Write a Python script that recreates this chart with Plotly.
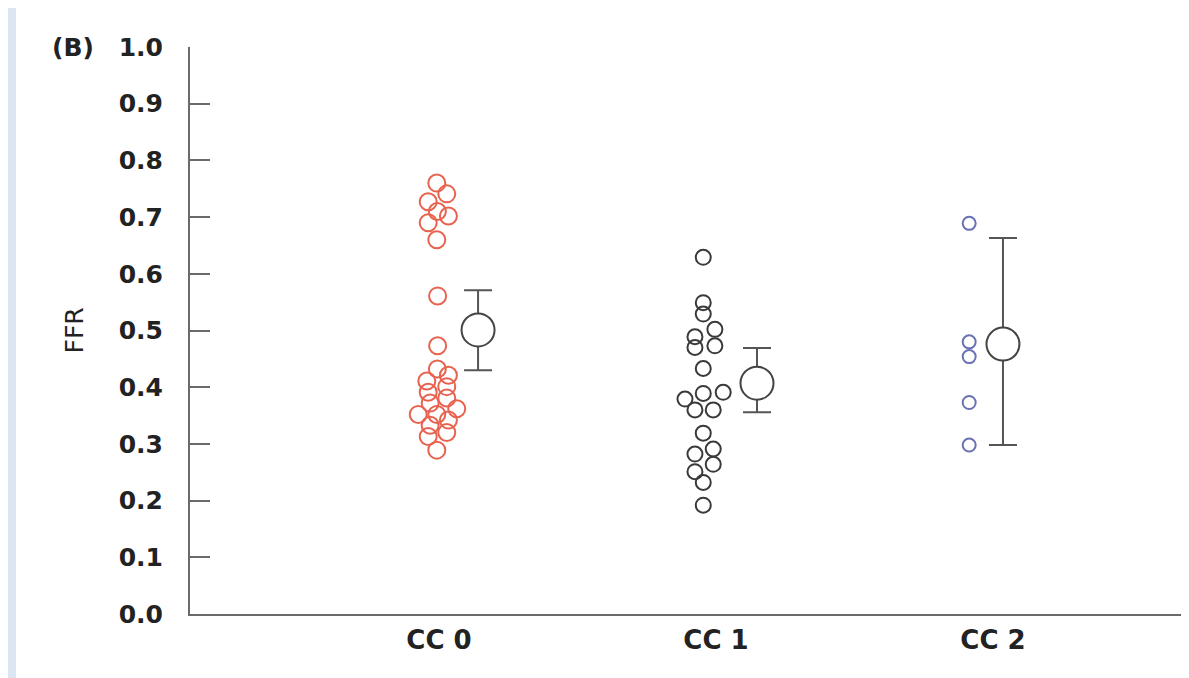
import plotly.graph_objects as go

# ---- data ----
categories = ["CC 0", "CC 1", "CC 2"]
cat_pos = [1, 2, 3]

cc0_ffr = [0.760, 0.741, 0.727, 0.710, 0.702, 0.690, 0.660, 0.561, 0.473,
           0.432, 0.421, 0.411, 0.401, 0.391, 0.381, 0.372, 0.352, 0.352,
           0.362, 0.342, 0.333, 0.320, 0.313, 0.289]
cc0_jitter = [-0.008, 0.028, -0.039, -0.006, 0.034, -0.039, -0.008, -0.005, -0.005,
              -0.006, 0.034, -0.044, 0.028, -0.039, 0.028, -0.032, -0.075, -0.008,
              0.064, 0.034, -0.032, 0.028, -0.039, -0.008]

cc1_ffr = [0.629, 0.549, 0.529, 0.502, 0.489, 0.473, 0.470, 0.433, 0.379, 0.389,
           0.391, 0.360, 0.360, 0.319, 0.291, 0.282, 0.264, 0.251, 0.232, 0.192]
cc1_jitter = [-0.046, -0.046, -0.046, -0.004, -0.076, -0.004, -0.076, -0.046, -0.112, -0.046,
              0.026, -0.076, -0.010, -0.046, -0.010, -0.076, -0.010, -0.076, -0.046, -0.046]

cc2_ffr = [0.689, 0.480, 0.454, 0.373, 0.298]
cc2_jitter = [-0.086, -0.086, -0.086, -0.086, -0.086]

mean_ffr = [0.501, 0.407, 0.476]
ci_upper = [0.571, 0.469, 0.663]
ci_lower = [0.430, 0.356, 0.298]
mean_offset = [0.141, 0.148, 0.036]

dot_colors = ["#e8634f", "#3a3a3a", "#6a72b4"]
dot_sizes = [17, 15, 13]

# figure geometry (page has an 8px body margin)
W, H = 1181, 670
L, T, B = 182, 39, 64
PW, PH = W - L, H - T - B

FONT = "DejaVu Sans, Verdana, sans-serif"
TXT = "#222222"

fig = go.Figure()

groups = [(cc0_ffr, cc0_jitter), (cc1_ffr, cc1_jitter), (cc2_ffr, cc2_jitter)]
for i, (vals, jit) in enumerate(groups):
    fig.add_trace(go.Scatter(
        x=[cat_pos[i] + j for j in jit], y=vals, mode="markers",
        marker=dict(symbol="circle-open", size=dot_sizes[i], color=dot_colors[i],
                    line=dict(width=2, color=dot_colors[i])),
        showlegend=False, hoverinfo="y"))

fig.add_trace(go.Scatter(
    x=[p + o for p, o in zip(cat_pos, mean_offset)], y=mean_ffr, mode="markers",
    marker=dict(symbol="circle", size=33, color="white",
                line=dict(width=2, color="#444444")),
    error_y=dict(type="data", symmetric=False,
                 array=[u - m for u, m in zip(ci_upper, mean_ffr)],
                 arrayminus=[m - l for m, l in zip(mean_ffr, ci_lower)],
                 color="#555555", thickness=2, width=14),
    showlegend=False, hoverinfo="y"))

# white panel over light blue frame
fig.add_shape(type="rect", xref="paper", yref="paper",
              x0=(8 - L) / PW, x1=1.05, y0=-0.3, y1=1 + T / PH + 0.01,
              fillcolor="white", line=dict(width=0), layer="below")

fig.add_annotation(text="(B)", xref="paper", yref="paper",
                   x=(65 - L) / PW, y=1.0, xanchor="center", yanchor="middle",
                   showarrow=False, font=dict(size=25, color=TXT, family=FONT, weight="bold"))
fig.add_annotation(text="FFR", xref="paper", yref="paper", textangle=-90,
                   x=(66 - L) / PW, y=0.5, xanchor="center", yanchor="middle",
                   showarrow=False, font=dict(size=25, color=TXT, family=FONT, weight="normal"))

fig.update_layout(
    width=W, height=H,
    margin=dict(l=L, r=0, t=T, b=B),
    paper_bgcolor="#dce6f2", plot_bgcolor="rgba(0,0,0,0)",
    font=dict(family=FONT, size=25, color=TXT),
    xaxis=dict(range=[1 - 249 / 277, 3 + 196 / 277], tickvals=cat_pos, ticktext=categories,
               showgrid=False, zeroline=False, showline=True, linecolor="#6a6a6a",
               linewidth=2, ticks="", ticklabelstandoff=2,
               tickfont=dict(size=26, weight="bold")),
    yaxis=dict(range=[0, 1.0], tickvals=[i / 10 for i in range(11)],
               ticktext=[f"{i / 10:.1f}" for i in range(11)],
               showgrid=False, zeroline=False, showline=True, linecolor="#6a6a6a",
               linewidth=2, ticks="inside", ticklen=20, tickwidth=2, tickcolor="#6a6a6a",
               ticklabelstandoff=20, tickfont=dict(weight="bold")),
)

fig.write_html("out.html")
